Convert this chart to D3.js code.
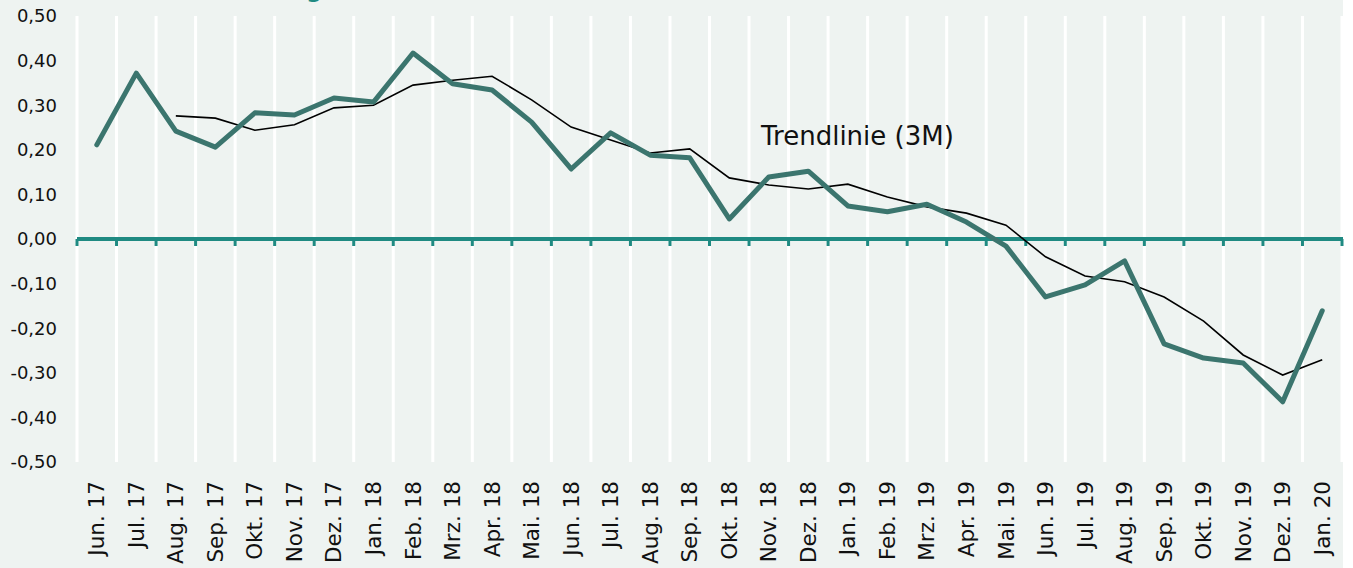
<!DOCTYPE html>
<html>
<head>
<meta charset="utf-8">
<script src="https://cdn.jsdelivr.net/npm/d3@7"></script>
<style>
  body { margin: 0; background: #fff; }
  text { font-family: "DejaVu Sans", sans-serif; }
</style>
</head>
<body>
<div id="chart"></div>
<script>
const months = ["Jun. 17","Jul. 17","Aug. 17","Sep. 17","Okt. 17","Nov. 17","Dez. 17","Jan. 18","Feb. 18","Mrz. 18","Apr. 18","Mai. 18","Jun. 18","Jul. 18","Aug. 18","Sep. 18","Okt. 18","Nov. 18","Dez. 18","Jan. 19","Feb. 19","Mrz. 19","Apr. 19","Mai. 19","Jun. 19","Jul. 19","Aug. 19","Sep. 19","Okt. 19","Nov. 19","Dez. 19","Jan. 20"];
const values = [0.211,0.372,0.242,0.206,0.283,0.278,0.316,0.307,0.417,0.348,0.334,0.262,0.157,0.238,0.188,0.182,0.045,0.139,0.152,0.074,0.061,0.078,0.038,-0.016,-0.130,-0.103,-0.049,-0.235,-0.267,-0.278,-0.365,-0.161];
const trend = [null,null,0.276,0.271,0.244,0.256,0.294,0.300,0.345,0.356,0.365,0.312,0.251,0.222,0.193,0.202,0.137,0.121,0.112,0.123,0.094,0.072,0.058,0.031,-0.040,-0.083,-0.096,-0.130,-0.184,-0.260,-0.305,-0.271];
const yTicks = [0.5,0.4,0.3,0.2,0.1,0,-0.1,-0.2,-0.3,-0.4,-0.5];

const width = 1353, height = 568;
const plotL = 77, plotR = 1342, plotT = 16, plotB = 462;

const svg = d3.select("#chart").append("svg")
  .attr("width", width).attr("height", height);

svg.append("rect").attr("x", 0).attr("y", 0)
  .attr("width", plotR + 1).attr("height", height).attr("fill", "#eef3f1");

const x = d3.scaleBand().domain(months).range([plotL, plotR]).padding(0);
const y = d3.scaleLinear().domain([-0.5, 0.5]).range([plotB, plotT]);

// title, mostly clipped at the top
svg.append("text").attr("x", 322).attr("y", -2)
  .attr("text-anchor", "end").attr("fill", "#1f8a82")
  .attr("font-size", 22).attr("font-weight", "bold")
  .text("Veränderung");

// vertical white gridlines at category boundaries
const bounds = months.map(m => x(m)).concat([plotR]);
svg.append("g").selectAll("line").data(bounds).enter().append("line")
  .attr("x1", d => d).attr("x2", d => d)
  .attr("y1", plotT).attr("y2", plotB)
  .attr("stroke", "#fff").attr("stroke-width", 3);

// y axis labels
const fmt = v => d3.format(".2f")(v).replace(".", ",").replace("−", "-");
svg.append("g").selectAll("text").data(yTicks).enter().append("text")
  .attr("x", 57).attr("y", d => y(d)).attr("dy", "0.35em")
  .attr("text-anchor", "end").attr("font-size", 18).attr("fill", "#111")
  .text(fmt);

// zero line with tick marks
svg.append("line").attr("x1", plotL).attr("x2", plotR + 1)
  .attr("y1", y(0)).attr("y2", y(0))
  .attr("stroke", "#1f8a82").attr("stroke-width", 4);
svg.append("g").selectAll("line").data(bounds).enter().append("line")
  .attr("x1", d => d).attr("x2", d => d)
  .attr("y1", y(0)).attr("y2", y(0) + 7)
  .attr("stroke", "#1f8a82").attr("stroke-width", 3);

// x labels, rotated
svg.append("g").selectAll("text").data(months).enter().append("text")
  .attr("transform", d => "translate(" + (x(d) + x.bandwidth() / 2) + ",481) rotate(-90)")
  .attr("dy", "0.35em").attr("text-anchor", "end")
  .attr("font-size", 21.5).attr("fill", "#111")
  .text(d => d);

const cx = (d, i) => x(months[i]) + x.bandwidth() / 2;

// trend line
const trendLine = d3.line().defined(d => d !== null)
  .x(cx).y(d => y(d));
svg.append("path").datum(trend).attr("d", trendLine)
  .attr("fill", "none").attr("stroke", "#000").attr("stroke-width", 1.6);

// main line
const mainLine = d3.line().x(cx).y(d => y(d));
svg.append("path").datum(values).attr("d", mainLine)
  .attr("fill", "none").attr("stroke", "#3b756e").attr("stroke-width", 5)
  .attr("stroke-linejoin", "round").attr("stroke-linecap", "round");

svg.append("text").attr("x", 761).attr("y", 145)
  .attr("font-size", 26).attr("fill", "#111")
  .text("Trendlinie (3M)");
</script>
</body>
</html>
